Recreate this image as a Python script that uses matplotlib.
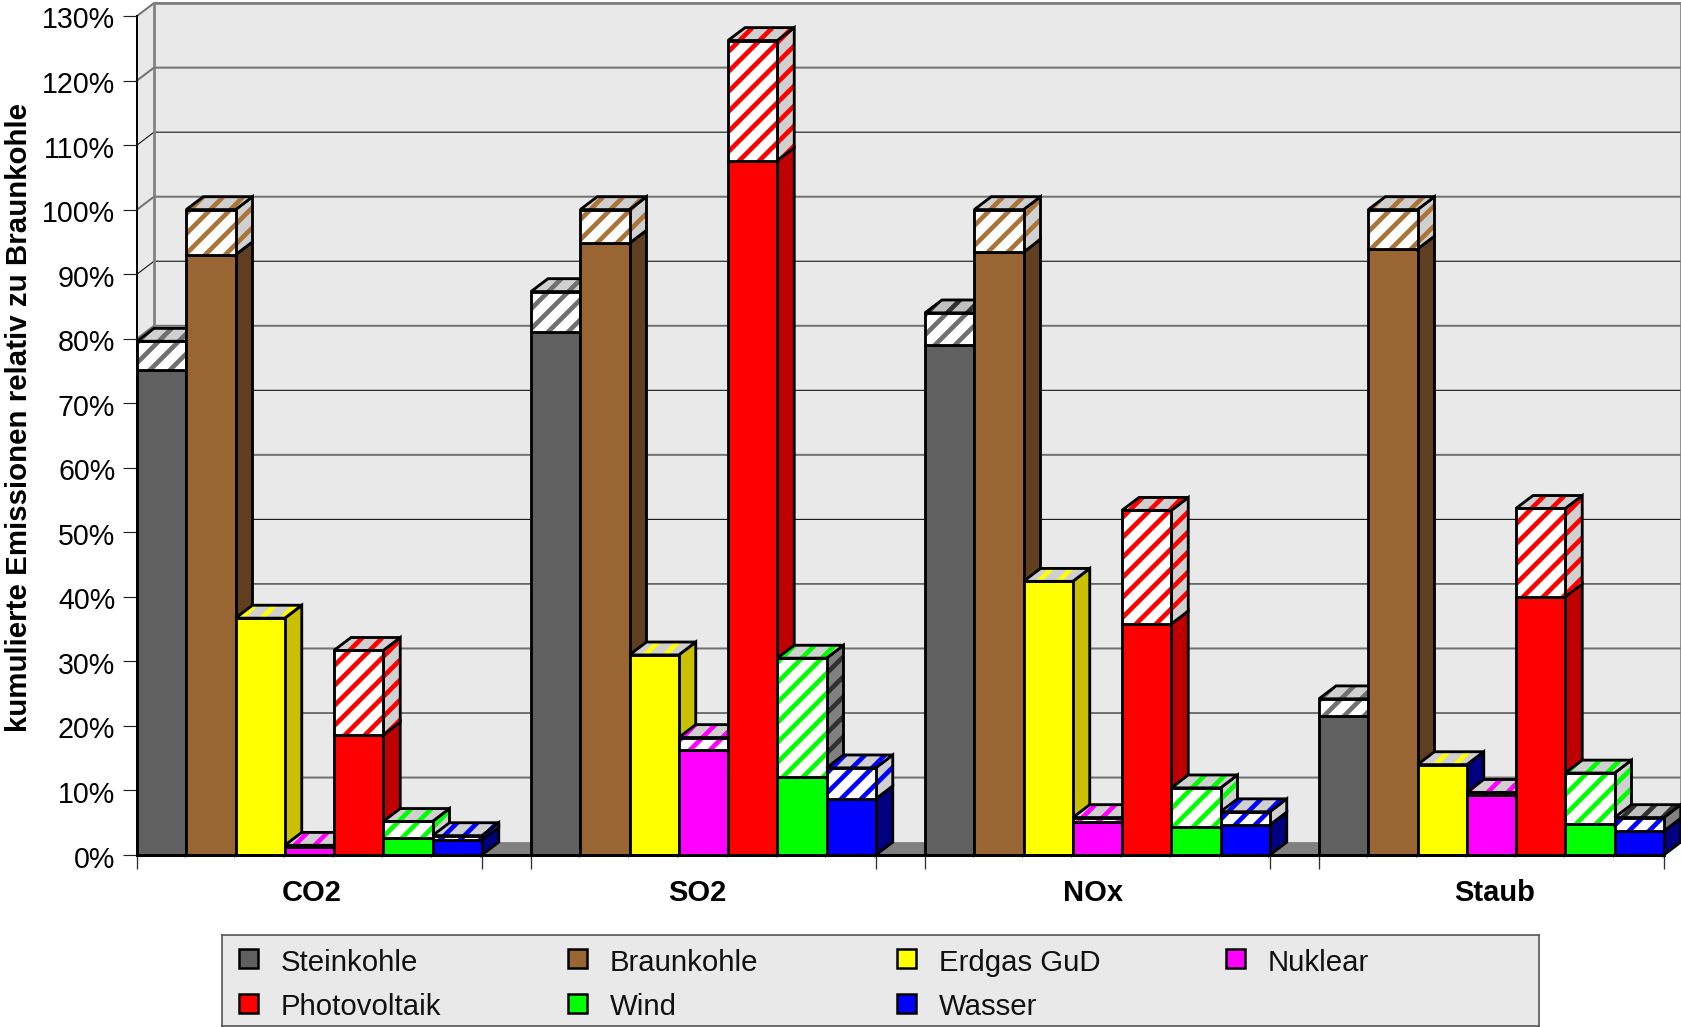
"""Pseudo 3D stacked column chart of cumulated emissions relative to lignite."""

import matplotlib

matplotlib.use("Agg")

import matplotlib.pyplot as plt
from matplotlib.patches import Polygon, Rectangle
from matplotlib.transforms import ScaledTranslation

W, H = 1681, 1027
DPI = 120

CATEGORIES = ["CO2", "SO2", "NOx", "Staub"]
LABEL_SHIFT = [0.04, -0.12, -0.08, 0.06]
SERIES = ["Steinkohle", "Braunkohle", "Erdgas GuD", "Nuklear", "Photovoltaik", "Wind", "Wasser"]

# direct part / total including the hatched upstream part, in percent
STEIN_DIRECT = [75.2, 81.1, 79.0, 21.5]
STEIN_TOTAL = [79.6, 87.3, 84.0, 24.2]
BRAUN_DIRECT = [93.0, 94.8, 93.4, 93.9]
BRAUN_TOTAL = [100.0, 100.0, 100.0, 100.0]
ERDGAS_DIRECT = [36.7, 31.0, 42.4, 14.0]
ERDGAS_TOTAL = [36.7, 31.0, 42.4, 14.0]
NUKLEAR_DIRECT = [1.2, 16.3, 5.1, 9.3]
NUKLEAR_TOTAL = [1.5, 18.2, 5.8, 9.7]
PV_DIRECT = [18.6, 107.6, 35.8, 40.0]
PV_TOTAL = [31.7, 126.2, 53.4, 53.7]
WIND_DIRECT = [2.7, 12.1, 4.4, 4.75]
WIND_TOTAL = [5.2, 30.5, 10.4, 12.7]
WASSER_DIRECT = [2.3, 8.7, 4.65, 3.7]
WASSER_TOTAL = [3.0, 13.5, 6.7, 5.8]

DIRECT = [STEIN_DIRECT, BRAUN_DIRECT, ERDGAS_DIRECT, NUKLEAR_DIRECT, PV_DIRECT, WIND_DIRECT, WASSER_DIRECT]
TOTAL = [STEIN_TOTAL, BRAUN_TOTAL, ERDGAS_TOTAL, NUKLEAR_TOTAL, PV_TOTAL, WIND_TOTAL, WASSER_TOTAL]

YTICKS = list(range(0, 131, 10))
THICK_GRID = [10, 30, 60, 80, 100, 120, 130]

FRONT = ["#606060", "#996633", "#ffff00", "#ff00ff", "#ff0000", "#00ff00", "#0000ff"]
SIDE = ["#404040", "#603f20", "#c8c000", "#c000c0", "#c00000", "#00c000", "#000080"]
STRIPE = ["#707070", "#aa7438", "#ffff00", "#ff00ff", "#ff0000", "#00ff00", "#0000ff"]
WALL = "#e9e9e9"
FLOOR = "#808080"
HAT_FACE = "#d0d0d0"

# the odd faces of the original, keyed by (category, series)
SOLID_SIDE_COLOR = {(3, 2): "#000080"}
HAT_SIDE_STYLE = {(1, 5): ("#808080", "#303030"), (3, 6): ("#808080", None)}
TOP_STYLE = {(2, 0): ("#c0c0c0", "#303030"), (3, 6): ("#c0c0c0", "#303030")}

GROUP_STEP = 8
N_BARS = len(SERIES)
X_MAX = 3 * GROUP_STEP + N_BARS
DEPTH_X = 17 / 49.25
DEPTH_Y = 2.0

plt.rcParams["font.family"] = ["Liberation Sans", "DejaVu Sans"]
plt.rcParams["hatch.linewidth"] = 2.8


def add_face(ax, points, face, stripe, z):
    """Fill one face, optionally striped, and give it a black outline."""
    if stripe is not None:
        ax.add_patch(Polygon(points, facecolor=face, edgecolor=stripe, hatch="//", lw=0, zorder=z, clip_on=False))
    else:
        ax.add_patch(Polygon(points, facecolor=face, edgecolor="none", zorder=z, clip_on=False))
    ax.add_patch(
        Polygon(points, fill=False, edgecolor="black", lw=1.7, joinstyle="miter", zorder=z + 0.1, clip_on=False)
    )


def draw_box(ax, x, y0, y1, front, front_stripe, side, side_stripe, z):
    """Draw the front and right side of a box between y0 and y1."""
    add_face(
        ax,
        [(x + 1, y0), (x + 1 + DEPTH_X, y0 + DEPTH_Y), (x + 1 + DEPTH_X, y1 + DEPTH_Y), (x + 1, y1)],
        side,
        side_stripe,
        z,
    )
    add_face(ax, [(x, y0), (x + 1, y0), (x + 1, y1), (x, y1)], front, front_stripe, z + 0.2)


def draw_bar(ax, group, series, z):
    x = group * GROUP_STEP + series
    direct = DIRECT[series][group]
    total = TOTAL[series][group]
    key = (group, series)
    stripe = STRIPE[series]

    side_color = SOLID_SIDE_COLOR.get(key, SIDE[series])
    draw_box(ax, x, 0, direct, FRONT[series], None, side_color, None, z)
    if total > direct:
        hat_face, hat_stripe = HAT_SIDE_STYLE.get(key, (HAT_FACE, stripe))
        draw_box(ax, x, direct, total, "white", stripe, hat_face, hat_stripe, z + 0.4)

    top_face, top_stripe = TOP_STYLE.get(key, (HAT_FACE, stripe))
    top = [(x, total), (x + 1, total), (x + 1 + DEPTH_X, total + DEPTH_Y), (x + DEPTH_X, total + DEPTH_Y)]
    add_face(ax, top, top_face, top_stripe, z + 0.8)


def draw_walls(ax):
    y_top = YTICKS[-1]
    ax.add_patch(
        Polygon(
            [(0, 0), (DEPTH_X, DEPTH_Y), (X_MAX + DEPTH_X, DEPTH_Y), (X_MAX + DEPTH_X, y_top + DEPTH_Y), (DEPTH_X, y_top + DEPTH_Y), (0, y_top)],
            facecolor=WALL,
            edgecolor="none",
            zorder=0.5,
            clip_on=False,
        )
    )
    ax.add_patch(
        Polygon(
            [(0, 0), (X_MAX, 0), (X_MAX + DEPTH_X, DEPTH_Y), (DEPTH_X, DEPTH_Y)],
            facecolor=FLOOR,
            edgecolor="none",
            zorder=0.6,
            clip_on=False,
        )
    )
    for tick in YTICKS[1:]:
        thick = tick in THICK_GRID
        color = "#727272" if thick else "#101010"
        width = 1.2 if thick else 0.65
        ax.plot(
            [0, DEPTH_X, X_MAX + DEPTH_X],
            [tick, tick + DEPTH_Y, tick + DEPTH_Y],
            color=color,
            lw=width,
            zorder=0.8,
            clip_on=False,
            solid_joinstyle="miter",
        )
    ax.plot(
        [DEPTH_X, DEPTH_X, X_MAX + DEPTH_X],
        [DEPTH_Y, y_top + DEPTH_Y, y_top + DEPTH_Y],
        color="#808080",
        lw=1.6,
        zorder=0.9,
        clip_on=False,
    )
    ax.plot([X_MAX + DEPTH_X] * 2, [DEPTH_Y, y_top + DEPTH_Y], color="#808080", lw=1.6, zorder=0.9, clip_on=False)


def style_axes(fig, ax):
    ax.set_xlim(0, X_MAX)
    ax.set_ylim(YTICKS[0], YTICKS[-1])
    ax.patch.set_visible(False)
    for name in ("top", "right"):
        ax.spines[name].set_visible(False)
    ax.spines["left"].set_linewidth(1.2)
    ax.spines["bottom"].set_linewidth(1.7)
    ax.spines["left"].set_zorder(1)

    ax.set_yticks(YTICKS)
    ax.set_yticklabels([f"{t}%" for t in YTICKS])
    ax.tick_params(axis="y", length=8.4, width=0.7, pad=4.6, labelsize=17.2, color="#222222")
    nudge = ScaledTranslation(0, -1.5 / DPI, fig.dpi_scale_trans)
    for label in ax.get_yticklabels():
        label.set_transform(label.get_transform() + nudge)

    edges = []
    for group in range(len(CATEGORIES)):
        edges += [group * GROUP_STEP, group * GROUP_STEP + N_BARS]
    ax.set_xticks(edges)
    ax.set_xticklabels([])
    ax.tick_params(axis="x", which="major", length=8.4, width=0.8, color="#333333")

    centers = [g * GROUP_STEP + N_BARS / 2 + s for g, s in enumerate(LABEL_SHIFT)]
    ax.set_xticks(centers, minor=True)
    ax.set_xticklabels(CATEGORIES, minor=True, fontweight="bold", fontsize=17.5)
    ax.tick_params(axis="x", which="minor", length=0, pad=14.2)

    ax.set_ylabel("kumulierte Emissionen relativ zu Braunkohle", fontweight="bold", fontsize=17.7)
    ax.yaxis.set_label_coords(-0.0680, (855 - 417) / (855 - 16))


def draw_legend(fig):
    left, right, top, bottom = 222, 1539, 935, 1026
    box = fig.add_axes([left / W, 1 - bottom / H, (right - left) / W, (bottom - top) / H])
    box.set_xlim(left, right)
    box.set_ylim(bottom, top)
    box.set_xticks([])
    box.set_yticks([])
    box.set_facecolor(WALL)
    for spine in box.spines.values():
        spine.set_color("#555555")
        spine.set_linewidth(1.0)

    for i, (name, color) in enumerate(zip(SERIES, FRONT)):
        row, col = divmod(i, 4)
        x = 248 + col * 329
        y = 958 + row * 45
        box.add_patch(Rectangle((x - 9.5, y - 9.5), 19, 19, facecolor=color, edgecolor="black", lw=1.5))
        box.text(x + 33, y + 5 - row, name, fontsize=17.6, va="center", ha="left", color="#111111")


def main():
    fig = plt.figure(figsize=(W / DPI, H / DPI), dpi=DPI, facecolor="white")
    ax = fig.add_axes([137 / W, 1 - 855 / H, (31 * 49.25) / W, (855 - 16) / H])
    style_axes(fig, ax)
    draw_walls(ax)

    z = 3
    for group in range(len(CATEGORIES)):
        for series in range(N_BARS):
            draw_bar(ax, group, series, z)
            z += 1
    ax.plot([0, X_MAX], [0, 0], color="black", lw=1.7, zorder=z, clip_on=False)

    draw_legend(fig)
    fig.savefig("out.png", dpi=DPI)
    plt.close(fig)


if __name__ == "__main__":
    main()
